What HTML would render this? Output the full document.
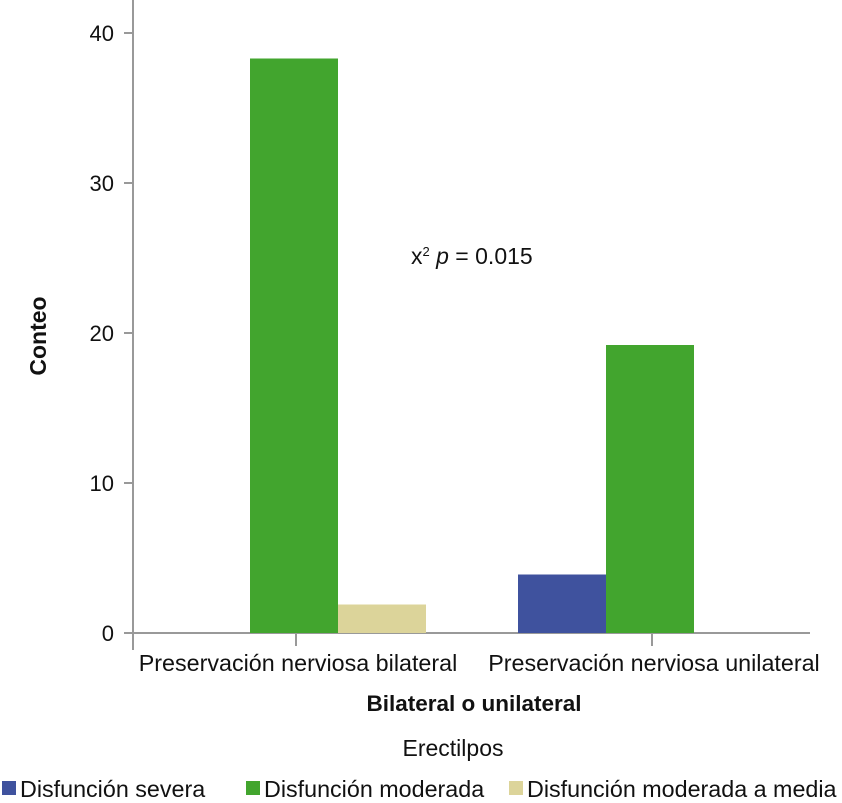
<!DOCTYPE html>
<html><head><meta charset="utf-8"><style>
body{margin:0;background:#fff;}
svg text{font-family:"Liberation Sans",Arial,sans-serif;fill:#111;}
</style></head><body>
<svg id="chart" width="842" height="798">
<g id="axes"></g><g id="bars"></g>
<text x="46" y="336" font-size="23" font-weight="bold" text-anchor="middle" transform="rotate(-90 46 336)">Conteo</text>
<text x="474" y="711" font-size="22.5" font-weight="bold" text-anchor="middle">Bilateral o unilateral</text>
<text x="411" y="264" font-size="23">x<tspan font-size="13" dy="-8">2</tspan><tspan dy="8" font-style="italic"> p</tspan> = 0.015</text>
<text x="453" y="756" font-size="23" text-anchor="middle">Erectilpos</text>
<g id="legend"></g>
</svg>
<script>
const categories=["Preservación nerviosa bilateral","Preservación nerviosa unilateral"];
const seriesNames=["Disfunción severa","Disfunción moderada","Disfunción moderada a media"];
const severa=[0,3.9];
const moderada=[38.3,19.2];
const media=[1.9,0];
const yTicks=[0,10,20,30,40];
const colors=["#3f529e","#42a52e","#dcd49a"];
const NS="http://www.w3.org/2000/svg";
function mk(t,a,p){const e=document.createElementNS(NS,t);for(const k in a)e.setAttribute(k,a[k]);p.appendChild(e);return e;}
const y=v=>633-v*15;
const cx=i=>294+i*356;
const bw=88;
const ax=document.getElementById('axes');
let l=mk('line',{x1:133,y1:0,x2:133,y2:650,stroke:'#999','stroke-width':2},ax);


l=mk('line',{x1:133,y1:y(0),x2:810,y2:y(0),stroke:'#999','stroke-width':2},ax);


yTicks.forEach(v=>{
 const t=mk('line',{x1:124,x2:133,y1:y(v),y2:y(v),stroke:'#999','stroke-width':2},ax);
 
 
 const tx=mk('text',{x:114,y:y(v)+8,'font-size':22,'text-anchor':'end'},ax);
 tx.textContent=v;
 
 
});
categories.forEach((c,i)=>{
 const t=mk('line',{x1:cx(i)+2,x2:cx(i)+2,y1:y(0),y2:646,stroke:'#999','stroke-width':2},ax);
 
 
 const tx=mk('text',{x:cx(i)+4,y:671,'font-size':23.3,'text-anchor':'middle'},ax);
 tx.textContent=c;
 
 
});
const bg=document.getElementById('bars');
[severa,moderada,media].forEach((s,j)=>{
 s.forEach((v,i)=>{
  const x=cx(i)+(j-1)*bw-bw/2;
  const r=mk('rect',{x:x,y:y(v),width:bw,height:y(0)-y(v),fill:colors[j]},bg);
  
  
 });
});
const lg=document.getElementById('legend');
const lx=[2,246,509];
seriesNames.forEach((n,j)=>{
 const r=mk('rect',{x:lx[j],y:781,width:14,height:14,fill:colors[j]},lg);
 
 
 const t=mk('text',{x:lx[j]+18,y:797,'font-size':23.3},lg);
 t.textContent=n;
 
 
});
</script>
</body></html>
